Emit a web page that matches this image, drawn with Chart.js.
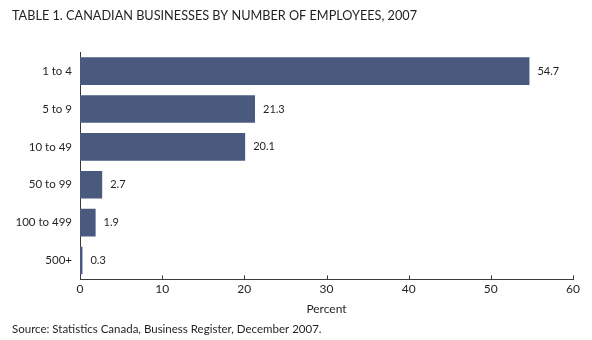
<!DOCTYPE html>
<html>
<head>
<meta charset="utf-8">
<style>
  html, body { margin: 0; padding: 0; background: #fff; }
  #wrap { width: 592px; height: 340px; }
</style>
<script src="https://cdn.jsdelivr.net/npm/chart.js@4/dist/chart.umd.min.js"></script>
</head>
<body>
<div id="wrap"><canvas id="bizChart" width="592" height="340"></canvas></div>
<script>
// Business size groups and their share of all businesses (%)
const categories = ['1 to 4', '5 to 9', '10 to 49', '50 to 99', '100 to 499', '500+'];
const percents = [54.7, 21.3, 20.1, 2.7, 1.9, 0.3];
const xMin = 0;
const xMax = 60;
const xStep = 10;

const textColor = '#231f20';
const barColor = '#4a5a7f';
const fontFamily = 'Lato, "Liberation Sans", sans-serif';

// Writes the value just past the end of each bar
const valueLabels = {
  id: 'valueLabels',
  afterDatasetsDraw(chart) {
    const ctx = chart.ctx;
    const meta = chart.getDatasetMeta(0);
    ctx.save();
    ctx.font = '11px ' + fontFamily;
    ctx.fillStyle = textColor;
    ctx.textBaseline = 'middle';
    ctx.textAlign = 'left';
    meta.data.forEach((bar, i) => {
      ctx.fillText(percents[i].toFixed(1), bar.x + 8, bar.y);
    });
    ctx.restore();
  }
};

// Short tick marks pointing up from the x axis
const upTicks = {
  id: 'upTicks',
  afterDraw(chart) {
    const ctx = chart.ctx;
    const x = chart.scales.x;
    const y0 = chart.chartArea.bottom;
    ctx.save();
    ctx.strokeStyle = '#3a3a3a';
    ctx.lineWidth = 1;
    x.ticks.forEach(t => {
      const px = Math.round(x.getPixelForValue(t.value)) + 0.5;
      ctx.beginPath();
      ctx.moveTo(px, y0);
      ctx.lineTo(px, y0 - 4);
      ctx.stroke();
    });
    ctx.restore();
  }
};

new Chart(document.getElementById('bizChart').getContext('2d'), {
  type: 'bar',
  data: {
    labels: categories,
    datasets: [{
      data: percents,
      backgroundColor: barColor,
      borderWidth: 0,
      categoryPercentage: 1.0,
      barPercentage: 0.73
    }]
  },
  options: {
    indexAxis: 'y',
    responsive: false,
    animation: false,
    layout: { padding: { left: 12, right: 19, top: 0, bottom: 4 } },
    scales: {
      x: {
        min: xMin,
        max: xMax,
        ticks: {
          stepSize: xStep,
          color: textColor,
          font: { family: fontFamily, size: 12 },
          padding: 3
        },
        grid: { display: false, drawTicks: false },
        border: { display: true, color: '#3a3a3a', width: 1 },
        title: {
          display: true,
          text: 'Percent',
          color: textColor,
          font: { family: fontFamily, size: 12 },
          padding: { top: 2, bottom: 0 }
        }
      },
      y: {
        ticks: {
          color: textColor,
          font: { family: fontFamily, size: 11.5 },
          padding: 8
        },
        grid: { display: false, drawTicks: false },
        border: { display: true, color: '#3a3a3a', width: 1 },
        afterFit(scale) { scale.width = 68; }
      }
    },
    plugins: {
      legend: { display: false },
      tooltip: { enabled: false },
      title: {
        display: true,
        text: 'TABLE 1. CANADIAN BUSINESSES BY NUMBER OF EMPLOYEES, 2007',
        align: 'start',
        color: textColor,
        font: { family: fontFamily, size: 12.7, weight: 'normal' },
        padding: { top: 8, bottom: 29 }
      },
      subtitle: {
        display: true,
        position: 'bottom',
        text: 'Source: Statistics Canada, Business Register, December 2007.',
        align: 'start',
        color: textColor,
        font: { family: fontFamily, size: 11.5 },
        padding: { top: 6, bottom: 0 }
      }
    }
  },
  plugins: [valueLabels, upTicks]
});
</script>
</body>
</html>
